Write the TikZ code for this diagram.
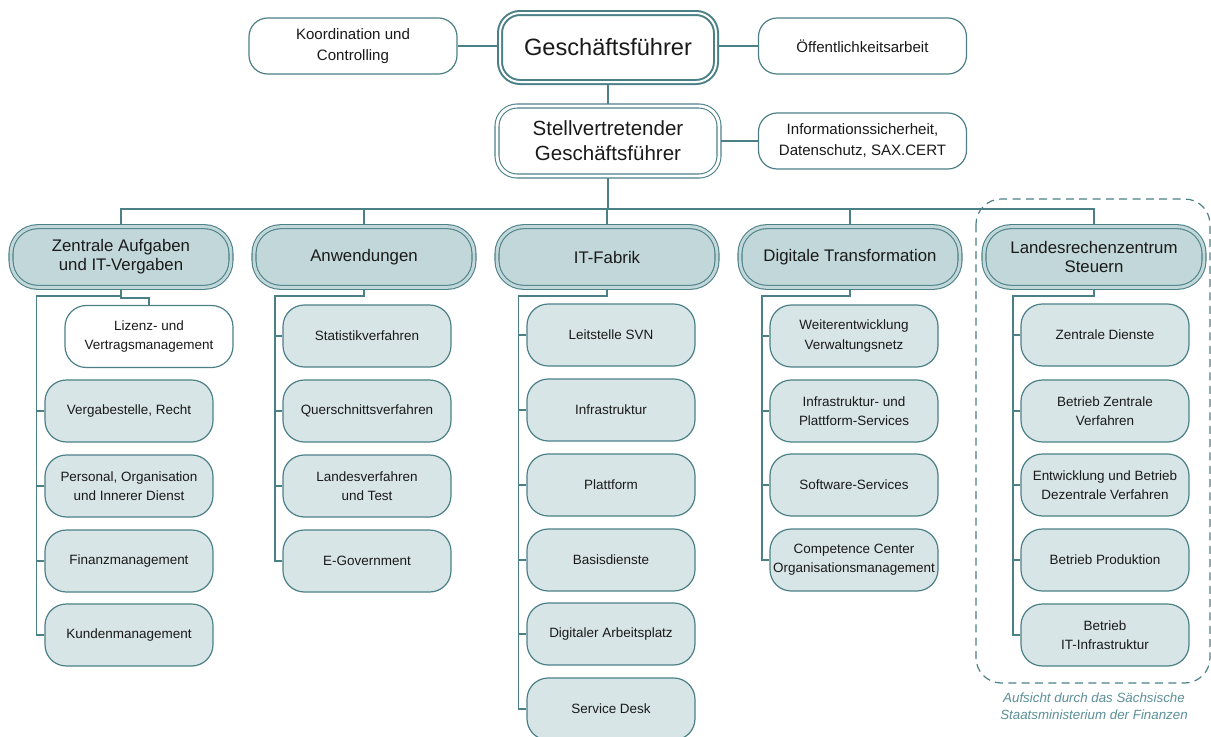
\documentclass[tikz,border=0pt]{standalone}
\usepackage{fontspec}
\setmainfont{Liberation Sans}
\usetikzlibrary{backgrounds}
\definecolor{orgline}{RGB}{76,128,135}
\definecolor{deptfill}{RGB}{194,215,217}
\definecolor{unitfill}{RGB}{216,229,230}
\definecolor{txt}{RGB}{26,26,26}
\definecolor{supv}{RGB}{90,143,150}
\begin{document}
\begin{tikzpicture}[x=0.75pt,y=-0.75pt,
  base/.style={draw=orgline, line width=0.9pt, rounded corners=13.5pt, align=center, text=txt, inner sep=0pt},
  unit/.style={base, fill=unitfill, minimum width=126pt, minimum height=46.5pt, rounded corners=16pt, font=\fontsize{10.1}{14.3}\selectfont},
  unitw/.style={unit, fill=white},
  dept/.style={base, fill=deptfill, double=deptfill, double distance=2.2pt, line width=0.8pt, minimum width=165pt, minimum height=45.5pt, rounded corners=20pt, font=\fontsize{12.6}{14.3}\selectfont},
  staff/.style={base, fill=white, minimum width=156pt, minimum height=42pt, rounded corners=14pt, font=\fontsize{11.3}{15.75}\selectfont},
  head/.style={base, fill=white, double=white, double distance=1.5pt, line width=1.5pt, minimum width=162pt, minimum height=51.75pt, rounded corners=15pt, font=\fontsize{17.7}{18.75}\selectfont},
  deputy/.style={base, fill=white, double=white, double distance=2.2pt, line width=0.8pt, minimum width=166.5pt, minimum height=52.5pt, rounded corners=15pt, font=\fontsize{15.4}{18.75}\selectfont},
  link/.style={draw=orgline, line width=1pt},
  supervision/.style={draw=orgline, line width=0.9pt, dash pattern=on 6pt off 4pt, rounded corners=19pt}
]
\useasboundingbox (0,0) rectangle (1211,736);

% management
\node[head]   (gf)  at (608,47.5) {Geschäftsführer};
\node[staff]  (koo) at (353,46)   {Koordination und\\Controlling};
\node[staff]  (oef) at (862.5,46) {Öffentlichkeitsarbeit};
\node[deputy] (stv) at (608,141)  {Stellvertretender\\Geschäftsführer};
\node[staff]  (inf) at (862.5,141){Informationssicherheit,\\Datenschutz, SAX.CERT};

% departments
\node[dept] (zen) at (121,257) {Zentrale Aufgaben\\und IT-Vergaben};
\node[dept] (anw) at (364,257) {Anwendungen};
\node[dept] (itf) at (607,257) {IT-Fabrik};
\node[dept] (dig) at (850,257) {Digitale Transformation};
\node[dept] (lrz) at (1094,257) {Landesrechenzentrum\\Steuern};

% Zentrale Aufgaben und IT-Vergaben
\node[unitw] (liz) at (149,336.5) {Lizenz- und\\Vertragsmanagement};
\node[unit] (z1) at (129,411) {Vergabestelle, Recht};
\node[unit] (z2) at (129,486) {Personal, Organisation\\und Innerer Dienst};
\node[unit] (z3) at (129,561) {Finanzmanagement};
\node[unit] (z4) at (129,635) {Kundenmanagement};

% Anwendungen
\node[unit] (a1) at (367,336) {Statistikverfahren};
\node[unit] (a2) at (367,411) {Querschnittsverfahren};
\node[unit] (a3) at (367,486) {Landesverfahren\\und Test};
\node[unit] (a4) at (367,561) {E-Government};

% IT-Fabrik
\node[unit] (i1) at (611,335) {Leitstelle SVN};
\node[unit] (i2) at (611,410) {Infrastruktur};
\node[unit] (i3) at (611,485) {Plattform};
\node[unit] (i4) at (611,560) {Basisdienste};
\node[unit] (i5) at (611,634) {Digitaler Arbeitsplatz};
\node[unit] (i6) at (611,709) {Service Desk};

% Digitale Transformation
\node[unit] (d1) at (854,336) {Weiterentwicklung\\Verwaltungsnetz};
\node[unit] (d2) at (854,411) {Infrastruktur- und\\Plattform-Services};
\node[unit] (d3) at (854,485) {Software-Services};
\node[unit] (d4) at (854,560) {Competence Center\\Organisationsmanagement};

% Landesrechenzentrum Steuern
\node[unit] (l1) at (1105,335) {Zentrale Dienste};
\node[unit] (l2) at (1105,411) {Betrieb Zentrale\\Verfahren};
\node[unit] (l3) at (1105,485) {Entwicklung und Betrieb\\Dezentrale Verfahren};
\node[unit] (l4) at (1105,560) {Betrieb Produktion};
\node[unit] (l5) at (1105,635) {Betrieb\\IT-Infrastruktur};

% supervision frame and its caption
\draw[supervision] (976,199) rectangle (1210,683);
\node[font=\itshape\fontsize{10}{12.75}\selectfont, text=supv, align=center, inner sep=0pt]
  (supl) at (1094,706.5) {Aufsicht durch das Sächsische\\Staatsministerium der Finanzen};

\coordinate (bus) at (0,209);

\begin{scope}[on background layer]
  \draw[link] (gf.south) -- (stv.north);
  \draw[link] (koo.east) -- (koo.east -| gf.west);
  \draw[link] (oef.west) -- (oef.west -| gf.east);
  \draw[link] (inf.west) -- (inf.west -| stv.east);
  \draw[link] (stv.south) -- (stv.south |- bus);
  \draw[link] (zen.north) -- (zen.north |- bus) -- (lrz.north |- bus) -- (lrz.north);
  \foreach \d in {anw,itf,dig}
    \draw[link] (\d.north) -- (\d.north |- bus);

  % spines under each department
  \draw[link] (zen.south) -- ++(0,8) -| ([xshift=-6pt]z4.west) -- (z4.west);
  \draw[link] (liz.north) -- ++(0,-7) -| (zen.south);
  \foreach \u in {z1,z2,z3} \draw[link] (\u.west) -- ++(-8,0);

  \draw[link] (anw.south) -- ++(0,8) -| ([xshift=-5.5pt]a4.west) -- (a4.west);
  \foreach \u in {a1,a2,a3} \draw[link] (\u.west) -- ++(-7.5,0);

  \draw[link] (itf.south) -- ++(0,8) -| ([xshift=-6pt]i6.west) -- (i6.west);
  \foreach \u in {i1,i2,i3,i4,i5} \draw[link] (\u.west) -- ++(-8,0);

  \draw[link] (dig.south) -- ++(0,8) -| ([xshift=-5.5pt]d4.west) -- (d4.west);
  \foreach \u in {d1,d2,d3} \draw[link] (\u.west) -- ++(-7.5,0);

  \draw[link] (lrz.south) -- ++(0,8) -| ([xshift=-5.5pt]l5.west) -- (l5.west);
  \foreach \u in {l1,l2,l3,l4} \draw[link] (\u.west) -- ++(-7.5,0);
\end{scope}
\end{tikzpicture}
\end{document}
